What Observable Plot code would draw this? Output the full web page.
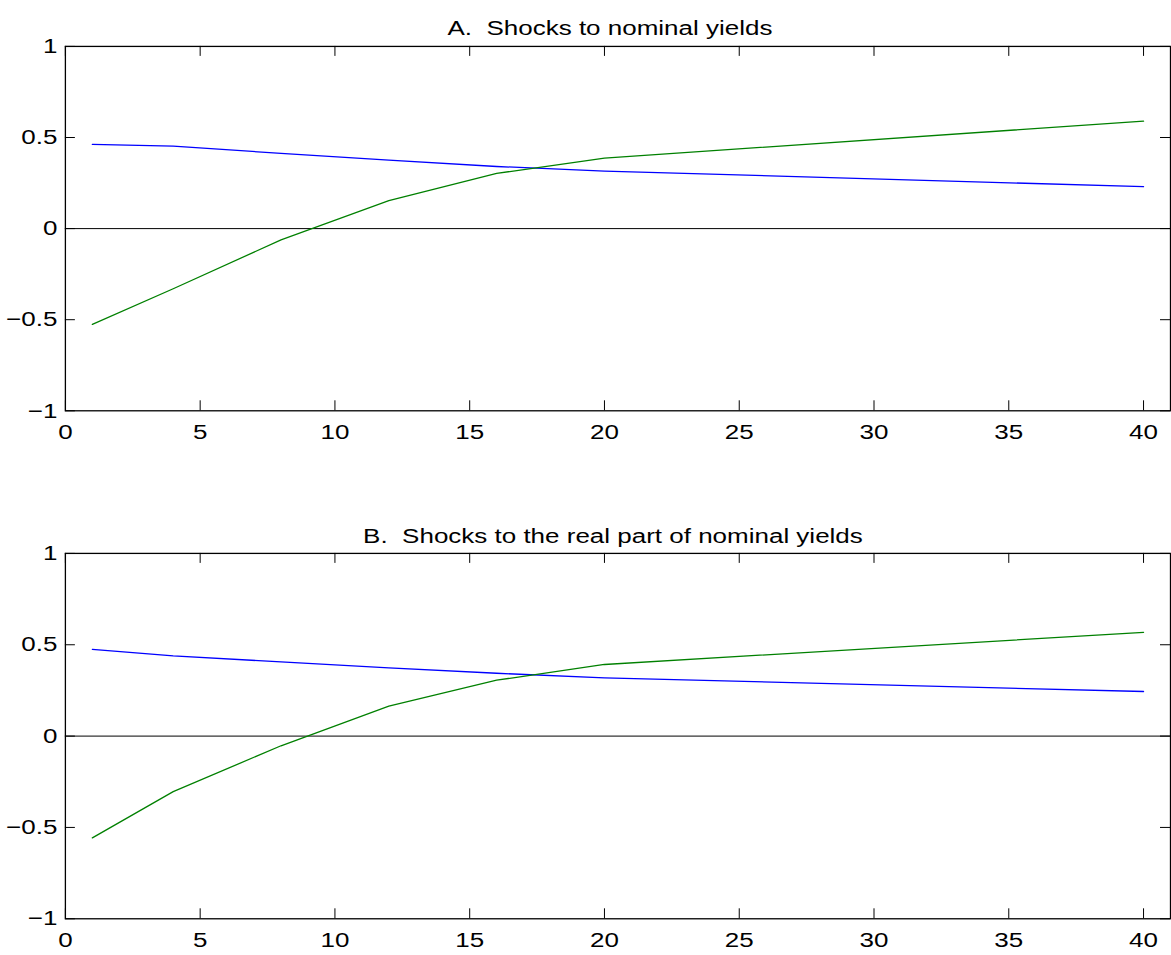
<!DOCTYPE html>
<html><head><meta charset="utf-8">
<script src="https://cdn.jsdelivr.net/npm/d3@7"></script>
<script src="https://cdn.jsdelivr.net/npm/@observablehq/plot@0.6"></script>
<style>
html,body{margin:0;padding:0;background:#fff;overflow:hidden;}
#wrap{position:relative;width:1171px;height:955px;overflow:hidden;background:#fff;}
.panel{position:absolute;left:0;}
svg text{white-space:pre;}
</style></head><body>
<div id="wrap"><div id="pa" class="panel" style="top:0px"></div><div id="pb" class="panel" style="top:500px"></div></div>
<script>
// maturities (x) and responses
const maturities = [1, 4, 8, 12, 16, 20, 40];
const nominalBlue  = [0.462, 0.453, 0.413, 0.376, 0.341, 0.316, 0.230];
const nominalGreen = [-0.526, -0.330, -0.062, 0.153, 0.303, 0.387, 0.590];
const realBlue  = [0.475, 0.439, 0.406, 0.373, 0.344, 0.319, 0.244];
const realGreen = [-0.557, -0.304, -0.053, 0.164, 0.306, 0.392, 0.568];
const xTicks = [0, 5, 10, 15, 20, 25, 30, 35, 40];
const yTicks = [-1, -0.5, 0, 0.5, 1];
const titleA = "A.  Shocks to nominal yields";
const titleB = "B.  Shocks to the real part of nominal yields";

const FONT = "'Liberation Sans', Arial, Helvetica, sans-serif";
const XMAX = 41;

function panel(blue, green, title, mt, mb, titleDy, titleDx) {
  const H = 455;
  const pxPerY = (H - mt - mb) / 2;
  const tickYLen = 10 / pxPerY;
  const pxPerX = (1172 - 65) / XMAX;
  const tickXLen = 10 / pxPerX;
  const rowsB = maturities.map((m, i) => ({m, v: blue[i]}));
  const rowsG = maturities.map((m, i) => ({m, v: green[i]}));
  const fmt = d3.format("~g");
  return Plot.plot({
    width: 1173, height: H,
    marginLeft: 65, marginRight: 1, marginTop: mt, marginBottom: mb,
    x: {domain: [0, XMAX], label: null},
    y: {domain: [-1, 1], label: null},
    style: {fontFamily: FONT, fontSize: "21px", color: "#000", background: "#fff", overflow: "visible"},
    marks: [
      Plot.ruleY([0], {stroke: "#000", strokeWidth: 1}),
      Plot.line(rowsB, {x: "m", y: "v", stroke: "#0000ff", strokeWidth: 1.3}),
      Plot.line(rowsG, {x: "m", y: "v", stroke: "#008000", strokeWidth: 1.3}),
      Plot.ruleX(xTicks, {x: d => d, y1: -1, y2: -1 + tickYLen, stroke: "#000", strokeWidth: 1}),
      Plot.ruleX(xTicks, {x: d => d, y1: 1, y2: 1 - tickYLen, stroke: "#000", strokeWidth: 1}),
      Plot.ruleY(yTicks, {y: d => d, x1: 0, x2: tickXLen, stroke: "#000", strokeWidth: 1}),
      Plot.ruleY(yTicks, {y: d => d, x1: XMAX, x2: XMAX - tickXLen, stroke: "#000", strokeWidth: 1}),
      Plot.frame({stroke: "#000", strokeWidth: 1.3}),
      Plot.axisX({ticks: xTicks, tickSize: 0, tickPadding: 13, tickFormat: fmt, fontSize: 21}),
      Plot.axisY({ticks: yTicks, tickSize: 0, tickPadding: 8, tickFormat: fmt, fontSize: 21}),
      Plot.text([title], {frameAnchor: "top", dy: titleDy, dx: titleDx, text: d => d, fontSize: 21, fill: "#000"})
    ]
  });
}

const a = panel(nominalBlue, nominalGreen, titleA, 46, 44, -26, -8);
const b = panel(realBlue, realGreen, titleB, 53, 36, -25, -5);
document.getElementById("pa").appendChild(a);
document.getElementById("pb").appendChild(b);

// widen the glyphs horizontally like the reference
for (const svg of [a, b]) {
  svg.querySelectorAll("text").forEach(t => {
    const w = t.getComputedTextLength();
    if (w > 0) {
      t.setAttribute("textLength", (w * 1.24).toFixed(2));
      t.setAttribute("lengthAdjust", "spacingAndGlyphs");
    }
  });
}
</script>
</body></html>
